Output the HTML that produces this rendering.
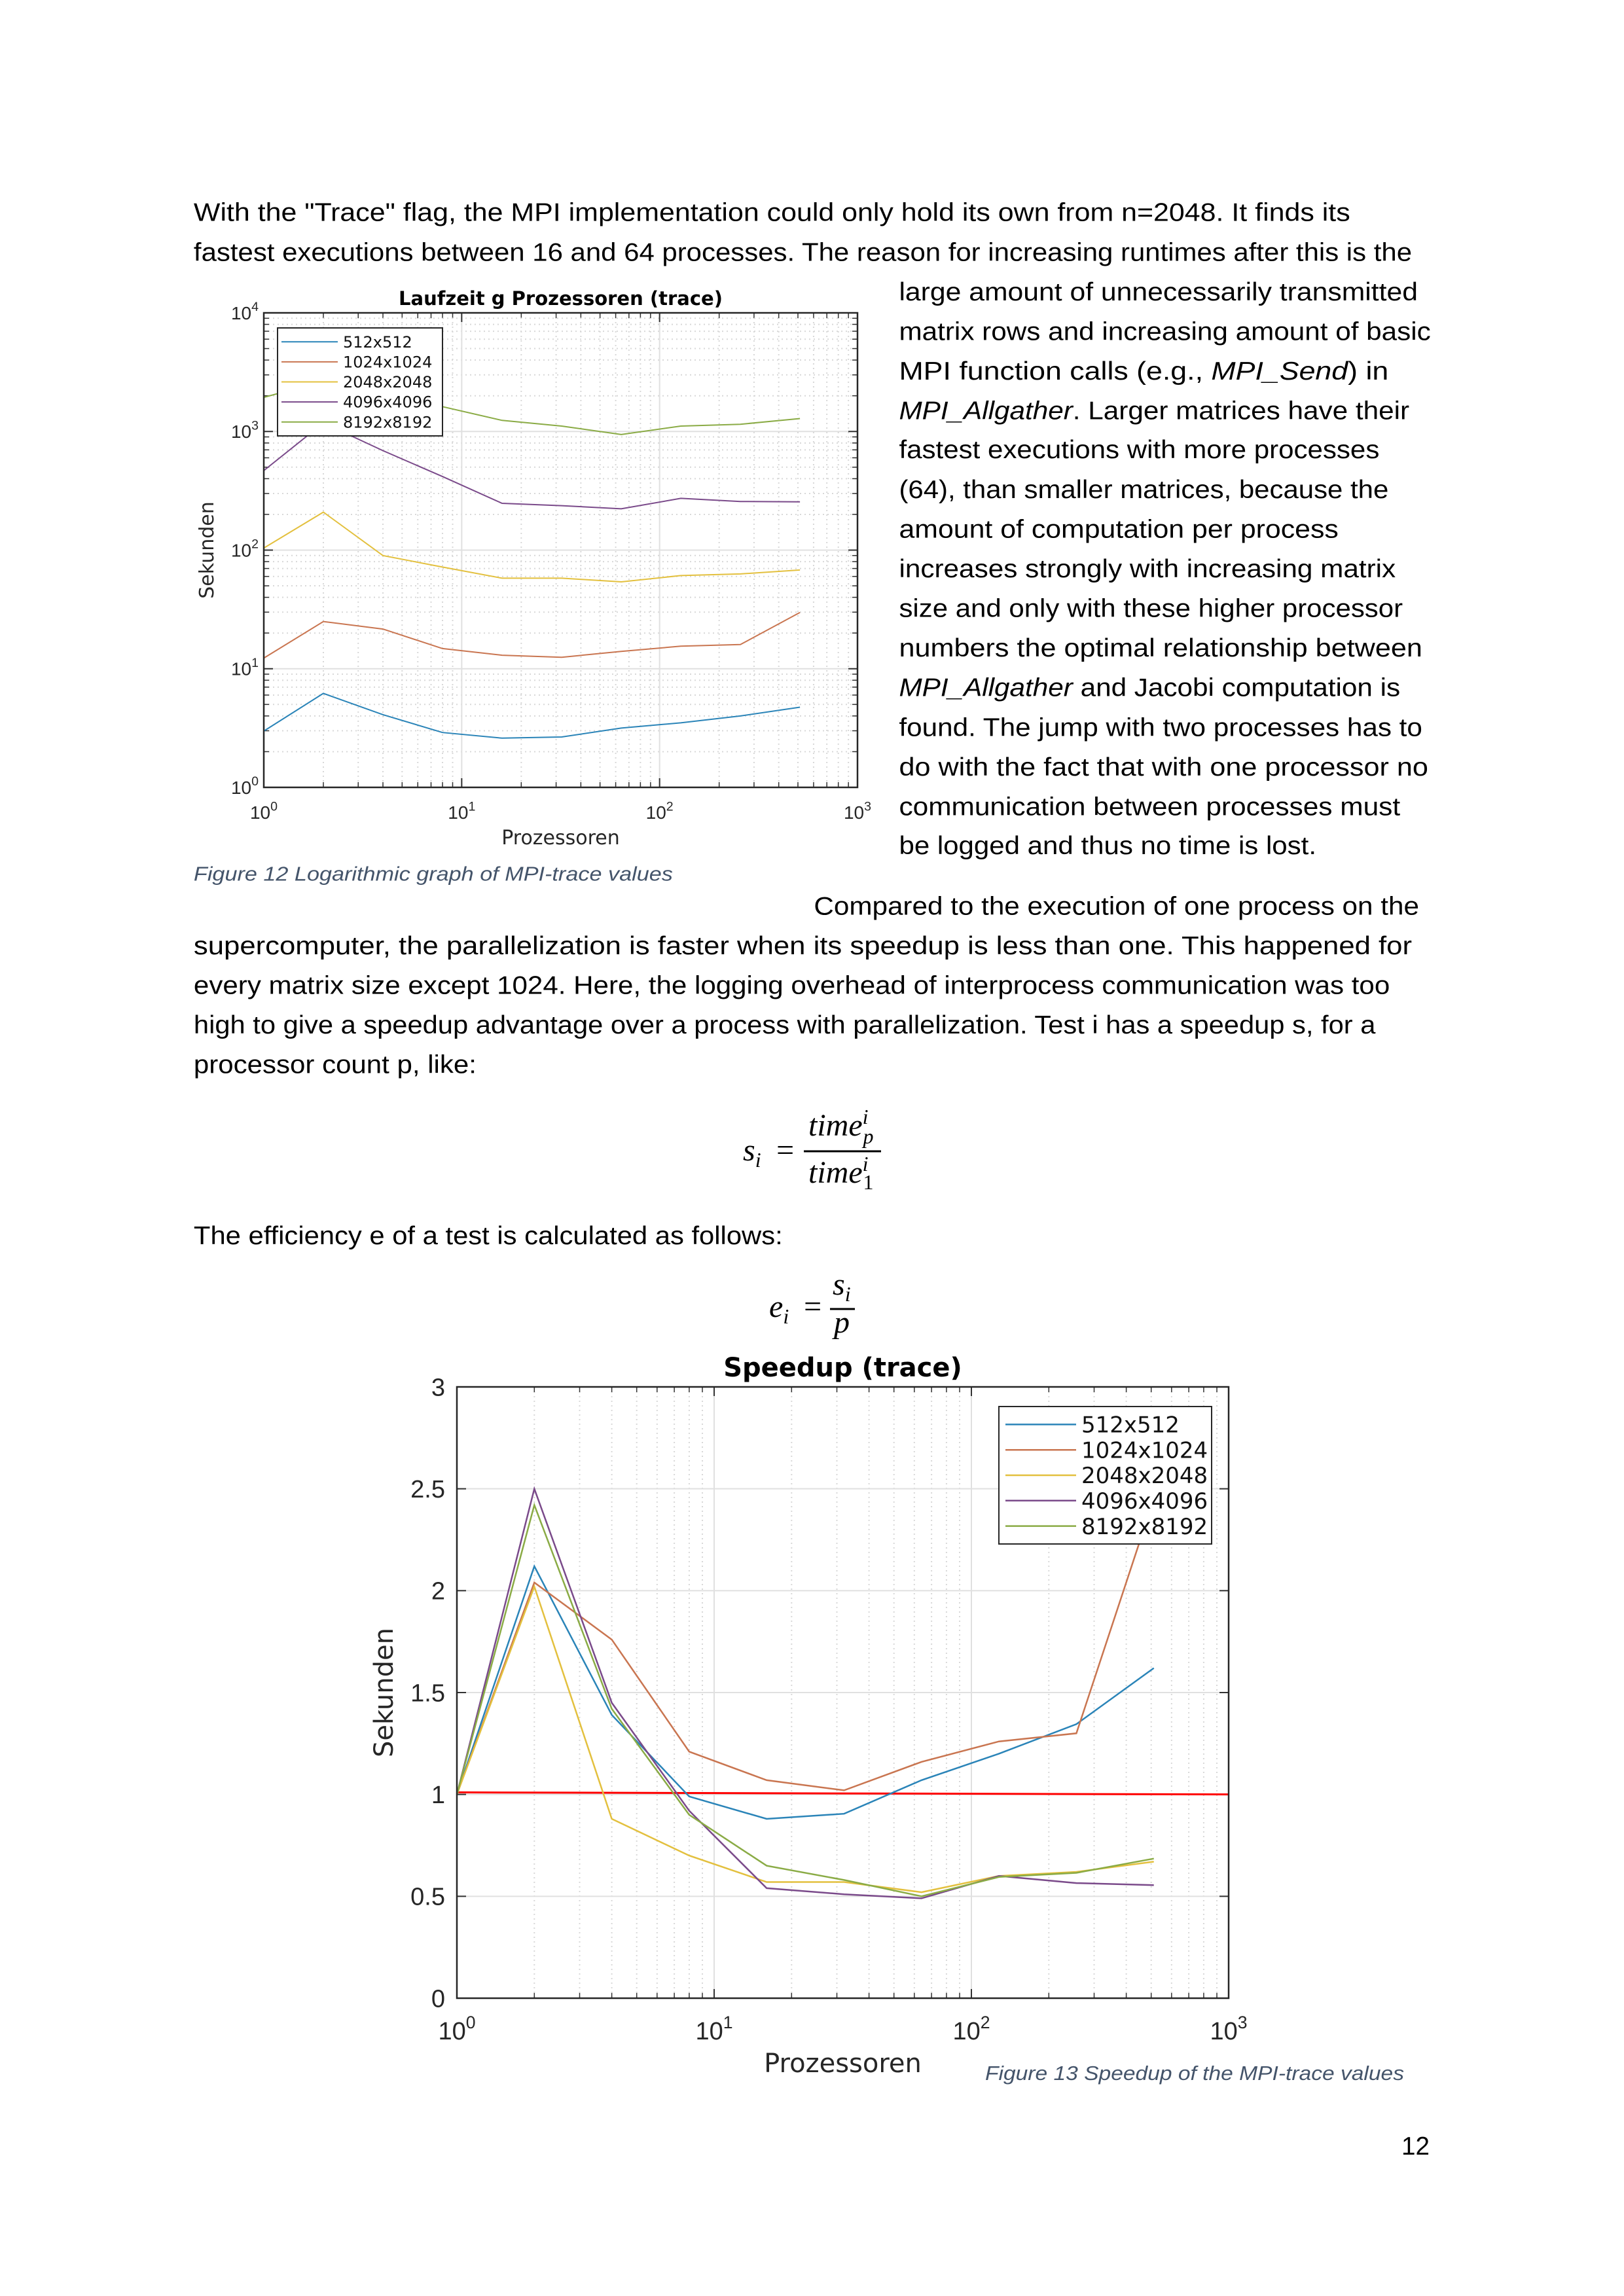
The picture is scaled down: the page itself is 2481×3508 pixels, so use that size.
<!DOCTYPE html>
<html><head><meta charset="utf-8"><style>
html,body{margin:0;padding:0;background:#fff;}
svg{display:block;}
.t{font-family:"Liberation Sans",sans-serif;font-size:39px;fill:#000;}
.cap{font-family:"Liberation Sans",sans-serif;font-size:31px;fill:#44546A;font-style:italic;}
.m{font-family:"Liberation Serif",serif;font-style:italic;font-size:48px;}
</style></head><body>
<svg id="page" xmlns="http://www.w3.org/2000/svg" width="2481" height="3508" viewBox="0 0 2481 3508">
<rect width="2481" height="3508" fill="#fff"/>
<g transform="matrix(0.9931,0,0,0.9931,0,11)">
<text class="t" x="298" y="329" textLength="1779" lengthAdjust="spacingAndGlyphs">With the "Trace" flag, the MPI implementation could only hold its own from n=2048. It finds its</text>
<text class="t" x="298" y="390" textLength="1874" lengthAdjust="spacingAndGlyphs">fastest executions between 16 and 64 processes. The reason for increasing runtimes after this is the</text>
<text class="t" x="1383" y="451" textLength="798" lengthAdjust="spacingAndGlyphs">large amount of unnecessarily transmitted</text>
<text class="t" x="1383" y="512" textLength="818" lengthAdjust="spacingAndGlyphs">matrix rows and increasing amount of basic</text>
<text class="t" x="1383" y="573" textLength="753" lengthAdjust="spacingAndGlyphs">MPI function calls (e.g., <tspan font-style="italic">MPI_Send</tspan>) in</text>
<text class="t" x="1383" y="634" textLength="785" lengthAdjust="spacingAndGlyphs"><tspan font-style="italic">MPI_Allgather</tspan>. Larger matrices have their</text>
<text class="t" x="1383" y="694" textLength="739" lengthAdjust="spacingAndGlyphs">fastest executions with more processes</text>
<text class="t" x="1383" y="755" textLength="753" lengthAdjust="spacingAndGlyphs">(64), than smaller matrices, because the</text>
<text class="t" x="1383" y="816" textLength="676" lengthAdjust="spacingAndGlyphs">amount of computation per process</text>
<text class="t" x="1383" y="877" textLength="764" lengthAdjust="spacingAndGlyphs">increases strongly with increasing matrix</text>
<text class="t" x="1383" y="938" textLength="775" lengthAdjust="spacingAndGlyphs">size and only with these higher processor</text>
<text class="t" x="1383" y="999" textLength="805" lengthAdjust="spacingAndGlyphs">numbers the optimal relationship between</text>
<text class="t" x="1383" y="1060" textLength="771" lengthAdjust="spacingAndGlyphs"><tspan font-style="italic">MPI_Allgather</tspan> and Jacobi computation is</text>
<text class="t" x="1383" y="1121" textLength="805" lengthAdjust="spacingAndGlyphs">found. The jump with two processes has to</text>
<text class="t" x="1383" y="1182" textLength="814" lengthAdjust="spacingAndGlyphs">do with the fact that with one processor no</text>
<text class="t" x="1383" y="1243" textLength="771" lengthAdjust="spacingAndGlyphs">communication between processes must</text>
<text class="t" x="1383" y="1303" textLength="642" lengthAdjust="spacingAndGlyphs">be logged and thus no time is lost.</text>
<text class="cap" x="298" y="1344" textLength="737" lengthAdjust="spacingAndGlyphs">Figure 12 Logarithmic graph of MPI-trace values</text>
<text class="t" x="1252" y="1396" textLength="931" lengthAdjust="spacingAndGlyphs">Compared to the execution of one process on the</text>
<text class="t" x="298" y="1457" textLength="1874" lengthAdjust="spacingAndGlyphs">supercomputer, the parallelization is faster when its speedup is less than one. This happened for</text>
<text class="t" x="298" y="1518" textLength="1840" lengthAdjust="spacingAndGlyphs">every matrix size except 1024. Here, the logging overhead of interprocess communication was too</text>
<text class="t" x="298" y="1579" textLength="1818" lengthAdjust="spacingAndGlyphs">high to give a speedup advantage over a process with parallelization. Test i has a speedup s, for a</text>
<text class="t" x="298" y="1640" textLength="435" lengthAdjust="spacingAndGlyphs">processor count p, like:</text>
<text class="t" x="298" y="1903" textLength="906" lengthAdjust="spacingAndGlyphs">The efficiency e of a test is calculated as follows:</text>
</g>
<g>
<text class="m" x="1135" y="1773">s<tspan font-size="32" dy="10">i</tspan></text>
<text class="m" x="1183" y="1773" font-style="normal">=</text>
<text class="m" x="1235" y="1735">time<tspan font-size="32" dy="-18">i</tspan><tspan font-size="32" dx="-8" dy="30">p</tspan></text>
<line x1="1228" y1="1759" x2="1346" y2="1759" stroke="#000" stroke-width="3"/>
<text class="m" x="1235" y="1807">time<tspan font-size="32" dy="-18">i</tspan><tspan font-size="32" font-style="normal" dx="-8" dy="28">1</tspan></text>
</g>
<g>
<text class="m" x="1175" y="2012">e<tspan font-size="32" dy="10">i</tspan></text>
<text class="m" x="1225" y="2012" font-style="normal">=</text>
<text class="m" x="1272" y="1978">s<tspan font-size="32" dy="10">i</tspan></text>
<line x1="1268" y1="2000" x2="1306" y2="2000" stroke="#000" stroke-width="3"/>
<text class="m" x="1274" y="2036">p</text>
</g>
<g id="chart1"></g>
<g id="chart2"></g>
<text class="cap" x="1505" y="3178" textLength="640" lengthAdjust="spacingAndGlyphs">Figure 13 Speedup of the MPI-trace values</text>
<text class="t" x="2141" y="3292" textLength="43" lengthAdjust="spacingAndGlyphs">12</text>
</svg>
<script>
const procs = [1,2,4,8,16,32,64,128,256,512];
const seriesNames = ["512x512","1024x1024","2048x2048","4096x4096","8192x8192"];
const seriesColors = ["#2a84b8","#c97550","#e3c03e","#7a4a8a","#8aab45"];
const runtime512 = [2.98,6.2,4.1,2.9,2.6,2.66,3.16,3.5,4.0,4.74];
const runtime1024 = [12.3,25,21.6,14.8,13,12.5,14,15.5,16,29.8];
const runtime2048 = [104,209,90,72,58,58,54,61,63,68];
const runtime4096 = [468,1180,690,417,248,237,223,273,257,255];
const runtime8192 = [1940,2650,2100,1620,1240,1110,943,1110,1150,1285];
const speedup512 = [1,2.12,1.39,0.99,0.88,0.905,1.07,1.2,1.345,1.62];
const speedup1024 = [1,2.04,1.76,1.21,1.07,1.02,1.16,1.26,1.30,2.45];
const speedup2048 = [1,2.02,0.88,0.70,0.57,0.57,0.52,0.60,0.62,0.67];
const speedup4096 = [1,2.5,1.45,0.92,0.54,0.51,0.49,0.60,0.565,0.555];
const speedup8192 = [1,2.42,1.42,0.90,0.65,0.58,0.50,0.595,0.615,0.685];
const runtimeTicks = [0,1,2,3,4];
const speedupTicks = [0,0.5,1,1.5,2,2.5,3];
const speedupTickLabels = ["0","0.5","1","1.5","2","2.5","3"];
const xDecades = [0,1,2,3];

const NS="http://www.w3.org/2000/svg";
function mk(parent,tag,attrs,txt){const e=document.createElementNS(NS,tag);for(const k in attrs)e.setAttribute(k,attrs[k]);if(txt!==undefined)e.textContent=txt;parent.appendChild(e);return e;}

function drawChart(g,o){
  const L=o.L,R=o.R,T=o.T,B=o.B;
  const xs=v=>L+(Math.log10(v)-0)/3*(R-L);
  const ys=o.ys;
  for(let d=0;d<3;d++)for(let k=2;k<=9;k++){const x=xs(k*Math.pow(10,d));
    const ln=mk(g,'line',{x1:x,y1:T,x2:x,y2:B,stroke:'#d8d8d8','stroke-width':2,'stroke-dasharray':'2,5'});
    
    mk(g,'line',{x1:x,y1:T,x2:x,y2:T+8,stroke:'#333','stroke-width':1.5});mk(g,'line',{x1:x,y1:B,x2:x,y2:B-8,stroke:'#333','stroke-width':1.5});}
  if(o.logY){for(let d=0;d<4;d++)for(let k=2;k<=9;k++){const y=ys(k*Math.pow(10,d));
    const ln=mk(g,'line',{x1:L,y1:y,x2:R,y2:y,stroke:'#d8d8d8','stroke-width':2,'stroke-dasharray':'2,5'});
    
    mk(g,'line',{x1:L,y1:y,x2:L+8,y2:y,stroke:'#333','stroke-width':1.5});mk(g,'line',{x1:R,y1:y,x2:R-8,y2:y,stroke:'#333','stroke-width':1.5});}}
  xDecades.forEach(d=>{const x=xs(Math.pow(10,d));
    const ln=mk(g,'line',{x1:x,y1:T,x2:x,y2:B,stroke:'#e0e0e0','stroke-width':2});
    
    mk(g,'line',{x1:x,y1:T,x2:x,y2:T+14,stroke:'#333','stroke-width':2});mk(g,'line',{x1:x,y1:B,x2:x,y2:B-14,stroke:'#333','stroke-width':2});
    const t=mk(g,'text',{x:x,y:o.xLabY,'text-anchor':'middle','font-family':'Liberation Sans, sans-serif','font-size':o.tfs,fill:'#262626'});
    
    t.appendChild(document.createTextNode('10'));mk(t,'tspan',{dy:-o.tfs*0.45,'font-size':o.tfs*0.7},String(d));});
  o.yTicks.forEach((v,i)=>{const y=o.logY?ys(Math.pow(10,v)):ys(v);
    const ln=mk(g,'line',{x1:L,y1:y,x2:R,y2:y,stroke:'#e0e0e0','stroke-width':2});
    
    mk(g,'line',{x1:L,y1:y,x2:L+14,y2:y,stroke:'#333','stroke-width':2});mk(g,'line',{x1:R,y1:y,x2:R-14,y2:y,stroke:'#333','stroke-width':2});
    const t=mk(g,'text',{x:L-o.yLabGap,y:y+o.tfs*0.35,'text-anchor':'end','font-family':'Liberation Sans, sans-serif','font-size':o.tfs,fill:'#262626'});
    
    if(o.logY){t.appendChild(document.createTextNode('10'));mk(t,'tspan',{dy:-o.tfs*0.45,'font-size':o.tfs*0.7},String(v));}
    else t.textContent=o.yLabels[i];});
  if(o.refLine){const ln=mk(g,'line',{x1:L,y1:ys(1.01),x2:R,y2:ys(1.0),stroke:'#ff0000','stroke-width':3});
    }
  o.series.forEach((arr,si)=>{const pts=arr.map((v,i)=>xs(procs[i]).toFixed(1)+','+ys(v).toFixed(1)).join(' ');
    const p=mk(g,'polyline',{points:pts,fill:'none',stroke:seriesColors[si],'stroke-width':o.lw});
    });
  const box=mk(g,'rect',{x:L,y:T,width:R-L,height:B-T,fill:'none',stroke:'#262626','stroke-width':2.5});
  
  const title=mk(g,'text',{x:(L+R)/2,y:o.titleY,'text-anchor':'middle','font-family':'DejaVu Sans, sans-serif','font-weight':'bold','font-size':o.titleFs,fill:'#000'},o.title);
  
  const xt=mk(g,'text',{x:(L+R)/2,y:o.xTitleY,'text-anchor':'middle','font-family':'DejaVu Sans, sans-serif','font-size':o.axFs,fill:'#262626'},'Prozessoren');
  
  const yt=mk(g,'text',{x:0,y:0,'text-anchor':'middle','font-family':'DejaVu Sans, sans-serif','font-size':o.axFs,fill:'#262626',transform:`translate(${o.yTitleX},${(T+B)/2}) rotate(-90)`},'Sekunden');
  
  const lg=mk(g,'g',{});
  const b=o.leg;mk(lg,'rect',{x:b.x,y:b.y,width:b.w,height:b.h,fill:'#fff',stroke:'#262626','stroke-width':2});
  const rh=(b.h-b.pad*2)/5;
  seriesNames.forEach((n,i)=>{const cy=b.y+b.pad+rh*(i+0.5);
    const e=mk(lg,'g',{});
    mk(e,'line',{x1:b.x+b.l1,y1:cy,x2:b.x+b.l2,y2:cy,stroke:seriesColors[i],'stroke-width':o.lw});
    mk(e,'text',{x:b.x+b.l2+8,y:cy+b.fs*0.36,'font-family':'DejaVu Sans, sans-serif','font-size':b.fs,fill:'#111'},n);});
}
(function(){const T=478,B=1203;
  drawChart(document.getElementById('chart1'),{L:403,R:1310,T:T,B:B,logY:true,
    ys:v=>B-Math.log10(v)/4*(B-T),yTicks:runtimeTicks,
    series:[runtime512,runtime1024,runtime2048,runtime4096,runtime8192],
    tfs:28,xLabY:1251,yLabGap:8,titleY:466,titleFs:29,title:'Laufzeit g Prozessoren (trace)',
    xTitleY:1290,axFs:30,yTitleX:326,lw:2,
    leg:{x:424,y:501,w:252,h:165,pad:6,l1:6,l2:92,fs:24}});})();
(function(){const T=2119,B=3053;
  drawChart(document.getElementById('chart2'),{L:698,R:1877,T:T,B:B,logY:false,refLine:true,
    ys:v=>B-v/3*(B-T),yTicks:speedupTicks,yLabels:speedupTickLabels,
    series:[speedup512,speedup1024,speedup2048,speedup4096,speedup8192],
    tfs:38,xLabY:3116,yLabGap:18,titleY:2103,titleFs:40,title:'Speedup (trace)',
    xTitleY:3166,axFs:40,yTitleX:600,lw:2.5,
    leg:{x:1526,y:2149,w:325,h:210,pad:8,l1:10,l2:118,fs:34}});})();
</script>
</body></html>
